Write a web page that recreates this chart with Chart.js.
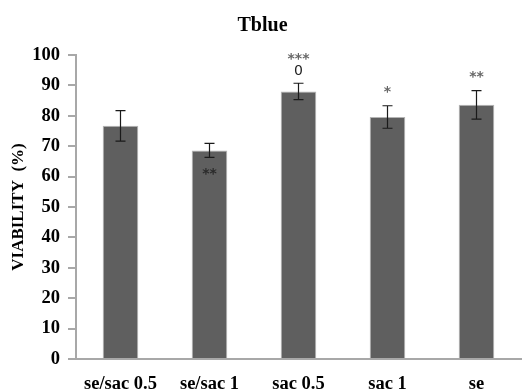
<!DOCTYPE html>
<html>
<head>
<meta charset="utf-8">
<script src="https://cdn.jsdelivr.net/npm/chart.js@4"></script>
<style>
  body { margin: 0; background: #fff; }
  canvas { display: block; }
</style>
</head>
<body>
<canvas id="ctx" width="522" height="390"></canvas>
<script>
const groups = ["se/sac 0.5", "se/sac 1", "sac 0.5", "sac 1", "se"];
const viability = [76.7, 68.6, 88.0, 79.6, 83.6];
const errors = [5.0, 2.3, 2.7, 3.7, 4.7];
const marksAbove = ["", "", "***", "*", "**"];
const marksZero = ["", "", "0", "", ""];
const marksBelow = ["", "**", "", "", ""];
const yTicks = [0, 10, 20, 30, 40, 50, 60, 70, 80, 90, 100];

const serif = "'Liberation Serif', 'Times New Roman', serif";
const starFont = "bold 14px 'DejaVu Sans', sans-serif";

// error bars + significance marks
const errorBars = {
  id: 'errorBars',
  afterDatasetsDraw(chart) {
    const c = chart.ctx;
    const y = chart.scales.y;
    const meta = chart.getDatasetMeta(0);
    c.save();
    c.strokeStyle = '#1a1a1a';
    c.lineWidth = 1.2;
    meta.data.forEach((bar, i) => {
      const x = bar.x;
      const top = y.getPixelForValue(viability[i] + errors[i]);
      const bot = y.getPixelForValue(viability[i] - errors[i]);
      c.beginPath();
      c.moveTo(x, top); c.lineTo(x, bot);
      c.moveTo(x - 5, top); c.lineTo(x + 5, top);
      c.moveTo(x - 5, bot); c.lineTo(x + 5, bot);
      c.stroke();

      c.textAlign = 'center';
      c.textBaseline = 'alphabetic';
      if (marksZero[i]) {
        c.fillStyle = '#222';
        c.font = "14px 'DejaVu Sans', sans-serif";
        c.fillText(marksZero[i], x, top - 8);
        c.fillStyle = '#666';
        c.font = starFont;
        c.fillText(marksAbove[i], x, top - 20);
      } else if (marksAbove[i]) {
        c.fillStyle = '#666';
        c.font = starFont;
        c.fillText(marksAbove[i], x, top - 10);
      }
      if (marksBelow[i]) {
        c.fillStyle = '#2a2a2a';
        c.font = starFont;
        c.fillText(marksBelow[i], x, bot + 21);
      }
    });
    c.restore();
  }
};

new Chart(document.getElementById('ctx').getContext('2d'), {
  type: 'bar',
  data: {
    labels: groups,
    datasets: [{
      data: viability,
      backgroundColor: '#5f5f5f',
      borderColor: '#b4b4b4',
      borderWidth: 1,
      barPercentage: 0.8,
      categoryPercentage: 0.5
    }]
  },
  options: {
    responsive: false,
    animation: false,
    layout: { padding: { left: 4, right: 1, top: 0, bottom: 0 } },
    plugins: {
      legend: { display: false },
      tooltip: { enabled: false },
      title: {
        display: true,
        text: 'Tblue',
        color: '#000',
        font: { family: serif, size: 20, weight: 'bold' },
        padding: { top: 14, bottom: 17 }
      }
    },
    scales: {
      x: {
        grid: { display: false, drawTicks: false },
        border: { color: '#a8a8a8', width: 2 },
        ticks: {
          color: '#000',
          font: { family: serif, size: 18.5, weight: 'bold' },
          padding: 14,
          maxRotation: 0
        },
        afterFit(s) { s.height = 31; }
      },
      y: {
        min: 0,
        max: 100,
        afterBuildTicks(s) { s.ticks = yTicks.map(v => ({ value: v })); },
        grid: { display: true, drawOnChartArea: false, tickLength: 8, color: '#a8a8a8', lineWidth: 2 },
        border: { color: '#a8a8a8', width: 2 },
        ticks: {
          color: '#000',
          font: { family: serif, size: 18.5, weight: 'bold' },
          padding: 8
        },
        title: {
          display: true,
          text: 'VIABILITY  (%)',
          color: '#000',
          font: { family: serif, size: 17, weight: 'bold' },
          padding: { top: 4, bottom: 0 }
        },
        afterFit(s) { s.width = 72; }
      }
    }
  },
  plugins: [errorBars]
});
</script>
</body>
</html>
